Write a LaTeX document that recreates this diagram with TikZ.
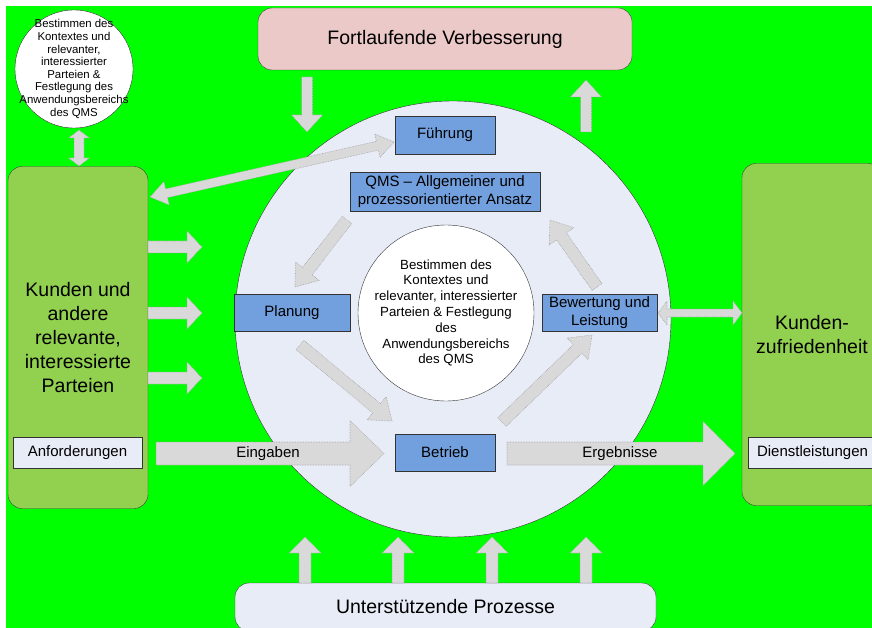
\documentclass[tikz,border=0pt]{standalone}
\usepackage{fontspec}
\setmainfont{Liberation Sans}
\usepackage{tikz}
\usetikzlibrary{calc, positioning}
\definecolor{bggreen}{HTML}{00FF00}
\definecolor{partyfill}{HTML}{92D050}
\definecolor{improvefill}{HTML}{EBC9C8}
\definecolor{cyclefill}{HTML}{E8ECF7}
\definecolor{stepfill}{HTML}{729FDD}
\definecolor{arrowfill}{HTML}{D9D9D9}
\definecolor{arrowline}{HTML}{A0A0A0}

% block arrow: [style] tail, tip, half shaft, half head, head length
\newcommand{\flowarrow}[6][]{%
  \coordinate (fa-h) at ($(#3)!#6!(#2)$);
  \draw[blockarr,#1] ($(#2)!#4!90:(#3)$) -- ($(fa-h)!#4!90:(#3)$) -- ($(fa-h)!#5!90:(#3)$) -- (#3)
    -- ($(fa-h)!#5!-90:(#3)$) -- ($(fa-h)!#4!-90:(#3)$) -- ($(#2)!#4!-90:(#3)$) -- cycle;
}
% block arrow with two heads: end, end, half shaft, half head, head length
\newcommand{\bothwayarrow}[5]{%
  \coordinate (ba-a) at ($(#1)!#5!(#2)$);
  \coordinate (ba-b) at ($(#2)!#5!(#1)$);
  \draw[blockarr] (#1) -- ($(ba-a)!#4!90:(#2)$) -- ($(ba-a)!#3!90:(#2)$) -- ($(ba-b)!#3!-90:(#1)$)
    -- ($(ba-b)!#4!-90:(#1)$) -- (#2) -- ($(ba-b)!#4!90:(#1)$) -- ($(ba-b)!#3!90:(#1)$)
    -- ($(ba-a)!#3!-90:(#2)$) -- ($(ba-a)!#4!-90:(#2)$) -- cycle;
}

\begin{document}
\begin{tikzpicture}[
    x=1pt, y=-1pt,
    party/.style={rectangle, rounded corners=14pt, draw=black!75, fill=partyfill, inner sep=0pt,
                  minimum width=140pt, minimum height=342pt, align=center,
                  font=\fontsize{19.5}{24}\selectfont},
    wide/.style={rectangle, rounded corners=14pt, draw=black!75, inner sep=0pt, align=center,
                 font=\fontsize{19.5}{24}\selectfont},
    stepbox/.style={rectangle, draw=black!80, fill=stepfill, inner sep=0pt, align=center,
                    minimum height=37pt, font=\fontsize{15}{18}\selectfont},
    tag/.style={rectangle, draw=black!80, fill=cyclefill, inner sep=0pt,
                minimum width=129pt, minimum height=31pt, font=\fontsize{15}{18}\selectfont},
    disc/.style={circle, draw=black!80, fill=white, inner sep=0pt},
    blockarr/.style={fill=arrowfill, draw=arrowline, densely dotted, line width=0.6pt},
    lbl/.style={inner sep=0pt, align=center, font=\fontsize{15}{18}\selectfont}
]
\clip (0,0) rectangle (872,628);
\fill[white] (0,0) rectangle (872,628);
\fill[bggreen] (6,6) rectangle (872,628);

\draw[black!80, fill=cyclefill] (453,319) circle (218);

\node[wide, fill=improvefill, minimum width=374pt, minimum height=62pt] (improve) at (445,39) {Fortlaufende Verbesserung};
\node[wide, fill=cyclefill, minimum width=421pt, minimum height=48pt] (support) at (445.5,607) {Unterst\"utzende Prozesse};
\node[party] (parties) at (78,337.5) {Kunden und\\andere\\relevante,\\interessierte\\Parteien};
\node[party] (satisfaction) at (812,334.5) {Kunden-\\zufriedenheit};
\node[tag] (demands) at (77.5,452.5) {Anforderungen};
\node[tag] (services) at (812.5,452.5) {Dienstleistungen};

\node[disc, minimum size=118pt] (scope) at (74,69) {};
\node[lbl, font=\fontsize{11.4}{12.6}\selectfont] (scopetext) at (scope) {Bestimmen des\\Kontextes und\\relevanter,\\interessierter\\Parteien \&\\Festlegung des\\Anwendungsbereichs\\des QMS};

% arrows
\coordinate (sc-a) at (79,130);
\coordinate (sc-b) at (79,166);
\bothwayarrow{sc-a}{sc-b}{5pt}{10.5pt}{8pt}
\coordinate (ld-a) at (150,197);
\coordinate (ld-b) at (394,142);
\bothwayarrow{ld-a}{ld-b}{4.5pt}{12pt}{17pt}
\coordinate (ev-a) at (658,313);
\coordinate (ev-b) at (742,313);
\bothwayarrow{ev-a}{ev-b}{4pt}{12pt}{9pt}

\coordinate (im-a) at (307,77);
\coordinate (im-b) at (307,132);
\flowarrow{im-a}{im-b}{5.5pt}{15.5pt}{17pt}
\coordinate (im-c) at (586,132);
\coordinate (im-d) at (586,80);
\flowarrow{im-c}{im-d}{5.5pt}{15.5pt}{17pt}

\foreach \y in {247,313,378} {
  \coordinate (pa-a) at (148,\y);
  \coordinate (pa-b) at (202,\y);
  \flowarrow{pa-a}{pa-b}{6pt}{16pt}{15pt}
}
\foreach \x in {305,398,492,586} {
  \coordinate (su-a) at (\x,583);
  \coordinate (su-b) at (\x,537);
  \flowarrow{su-a}{su-b}{6pt}{16pt}{16pt}
}

\coordinate (in-a) at (156,453.5);
\coordinate (in-b) at (384,453.5);
\flowarrow{in-a}{in-b}{11.5pt}{33pt}{34pt}
\coordinate (out-a) at (507,453.5);
\coordinate (out-b) at (735,453.5);
\flowarrow{out-a}{out-b}{11.5pt}{32pt}{32pt}
\node[lbl] (inputs) at (268,454) {Eingaben};
\node[lbl] (results) at (620,454) {Ergebnisse};

% cycle
\coordinate (c1a) at (347,220);
\coordinate (c1b) at (295,287);
\flowarrow{c1a}{c1b}{6pt}{15pt}{20pt}
\coordinate (c2a) at (300,345);
\coordinate (c2b) at (392,421);
\flowarrow{c2a}{c2b}{6pt}{15pt}{20pt}
\coordinate (c3a) at (502,422);
\coordinate (c3b) at (592,335);
\flowarrow{c3a}{c3b}{6pt}{15pt}{20pt}
\coordinate (c4a) at (597,287);
\coordinate (c4b) at (550,220);
\flowarrow{c4a}{c4b}{6pt}{15pt}{20pt}

\node[stepbox, minimum width=100pt, minimum height=38pt] (lead) at (445,135) {F\"uhrung};
\node[stepbox, minimum width=190pt, minimum height=39pt] (qms) at (445,191.5) {QMS -- Allgemeiner und\\prozessorientierter Ansatz};
\node[stepbox, minimum width=116pt] (plan) at (292,312.5) {Planung};
\node[stepbox, minimum width=115pt] (evaluate) at (599.5,312.5) {Bewertung und\\Leistung};
\node[stepbox, minimum width=100pt] (operate) at (445,452.5) {Betrieb};

\node[disc, minimum size=176pt] (context) at (446,313) {};
\node[lbl, font=\fontsize{13.3}{15.8}\selectfont] (contexttext) at (context) {Bestimmen des\\Kontextes und\\relevanter, interessierter\\Parteien \& Festlegung\\des\\Anwendungsbereichs\\des QMS};

\end{tikzpicture}
\end{document}
